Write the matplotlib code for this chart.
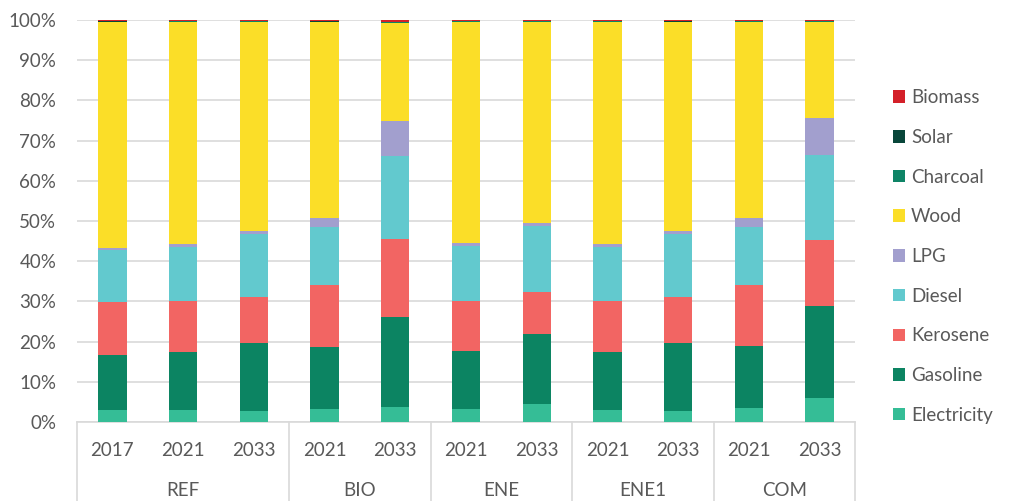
import matplotlib
matplotlib.use("Agg")
import matplotlib.pyplot as plt
from matplotlib.patches import Patch
import numpy as np

plt.rcParams["font.family"] = ["Lato", "DejaVu Sans"]

GROUPS = ["REF", "BIO", "ENE", "ENE1", "COM"]
YEARS = [["2017", "2021", "2033"], ["2021", "2033"], ["2021", "2033"],
         ["2021", "2033"], ["2021", "2033"]]

# shares in %, one value per bar (REF 2017 ... COM 2033)
electricity = [3.1, 3.0, 2.8, 3.2, 3.8, 3.3, 4.5, 3.1, 2.8, 3.6, 6.0]
gasoline = [13.6, 14.3, 16.8, 15.4, 22.2, 14.4, 17.5, 14.3, 16.8, 15.2, 22.8]
kerosene = [13.2, 12.7, 11.4, 15.5, 19.4, 12.4, 10.3, 12.7, 11.4, 15.3, 16.4]
diesel = [12.9, 13.5, 15.7, 14.4, 20.7, 13.6, 16.4, 13.4, 15.7, 14.4, 21.3]
lpg = [0.6, 0.7, 0.8, 2.3, 8.7, 0.8, 0.8, 0.8, 0.8, 2.3, 9.0]
wood = [56.0, 55.4, 52.1, 48.6, 24.5, 55.1, 50.1, 55.3, 52.1, 48.9, 24.1]
charcoal = [0.15, 0.05, 0.05, 0.15, 0.15, 0.05, 0.05, 0.05, 0.05, 0.05, 0.05]
solar = [0.15, 0.05, 0.05, 0.15, 0.05, 0.05, 0.05, 0.05, 0.1, 0.05, 0.05]
biomass = [0.3, 0.3, 0.3, 0.3, 0.5, 0.3, 0.3, 0.3, 0.3, 0.3, 0.3]

SERIES = [
    ("Electricity", electricity, "#35BD96"),
    ("Gasoline", gasoline, "#0C8462"),
    ("Kerosene", kerosene, "#F26563"),
    ("Diesel", diesel, "#62C9CE"),
    ("LPG", lpg, "#A29FCE"),
    ("Wood", wood, "#FBDE28"),
    ("Charcoal", charcoal, "#0E8466"),
    ("Solar", solar, "#08463A"),
    ("Biomass", biomass, "#D42029"),
]

TEXT = "#595959"
GRID = "#D9D9D9"
FS = 13.5

fig = plt.figure(figsize=(10.12, 5.01), dpi=100)
ax = fig.add_axes([77 / 1012, 79 / 501, 778 / 1012, 402 / 501])

n = sum(len(y) for y in YEARS)
x = np.arange(n)
totals = np.sum([s[1] for s in SERIES], axis=0)
bottom = np.zeros(n)
for name, vals, color in SERIES:
    share = np.array(vals) / totals * 100
    ax.bar(x, share, 0.4, bottom=bottom, color=color, edgecolor="none",
           label=name, zorder=3)
    bottom += share

ax.set_xlim(-0.5, n - 0.5)
ax.set_ylim(0, 100)
ax.set_yticks(np.arange(0, 101, 10))
ax.set_yticklabels([f"{v}%" for v in range(0, 101, 10)])
ax.yaxis.grid(True, color=GRID, linewidth=1.2, zorder=0)
ax.tick_params(axis="y", length=0, pad=15, labelsize=FS, labelcolor=TEXT)
ax.set_xticks([])
for side in ["left", "right", "top"]:
    ax.spines[side].set_visible(False)
ax.spines["bottom"].set_color(GRID)
ax.spines["bottom"].set_linewidth(1.2)

# two-level category axis: years, then scenario groups
trans = ax.get_xaxis_transform()
pos = 0
edges = [-0.5]
for grp, yrs in zip(GROUPS, YEARS):
    for i, yr in enumerate(yrs):
        ax.text(pos + i, -0.07, yr, transform=trans, ha="center", va="center",
                fontsize=FS, color=TEXT)
    ax.text(pos + (len(yrs) - 1) / 2, -0.17, grp, transform=trans,
            ha="center", va="center", fontsize=FS, color=TEXT)
    pos += len(yrs)
    edges.append(pos - 0.5)
for e in edges:
    ax.plot([e, e], [0, -0.2], transform=trans, color=GRID, linewidth=1.2,
            clip_on=False)

handles = [Patch(facecolor=c, label=nm) for nm, _, c in SERIES][::-1]
fig.legend(handles=handles, loc="center left", bbox_to_anchor=(0.866, 0.488),
           frameon=False, fontsize=FS, labelcolor=TEXT, handlelength=0.65,
           handleheight=0.65, handletextpad=0.3, labelspacing=1.21)

fig.savefig("out.png", dpi=100)
